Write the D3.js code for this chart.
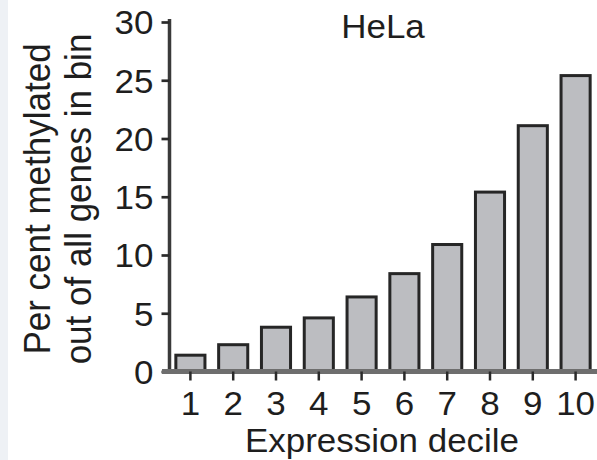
<!DOCTYPE html>
<html>
<head>
<meta charset="utf-8">
<script src="https://cdn.jsdelivr.net/npm/d3@7"></script>
<style>
  html, body { margin: 0; padding: 0; background: #ffffff; }
  svg { display: block; }
  text { font-family: "Liberation Sans", Arial, Helvetica, sans-serif; fill: #1e1e1e; }
</style>
</head>
<body>
<script>
// Percentage of methylated genes per expression decile (HeLa)
const deciles = [1, 2, 3, 4, 5, 6, 7, 8, 9, 10];
const percentMethylated = [1.4, 2.3, 3.8, 4.6, 6.4, 8.4, 10.9, 15.4, 21.1, 25.4];
const yTicks = [0, 5, 10, 15, 20, 25, 30];
const panelTitle = "HeLa";
const xTitle = "Expression decile";
const yTitleLines = ["Per cent methylated", "out of all genes in bin"];

const W = 597, H = 460;
const svg = d3.select("body").append("svg").attr("width", W).attr("height", H);

// light strip along the left edge
svg.append("rect").attr("x", 0).attr("y", 0).attr("width", 8).attr("height", H).attr("fill", "#eef1f5");

const x = d3.scaleBand().domain(deciles).range([169, 597]).paddingInner(0.25).paddingOuter(0.125);
const y = d3.scaleLinear().domain([0, 30]).range([371.5, 22]);

const sx = 1.06; // slightly wide lettering

// bars
svg.append("g").selectAll("rect").data(deciles).join("rect")
  .attr("x", d => x(d) + 1.5)
  .attr("width", x.bandwidth() - 3)
  .attr("y", (d, i) => y(percentMethylated[i]))
  .attr("height", (d, i) => y(0) - y(percentMethylated[i]))
  .attr("fill", "#bcbdc1")
  .attr("stroke", "#262626")
  .attr("stroke-width", 3);

// y axis
const yAxis = svg.append("g").attr("transform", "translate(169.5,0)")
  .call(d3.axisLeft(y).tickValues(yTicks).tickSize(8).tickFormat(() => ""));
yAxis.select(".domain").attr("d", `M0,${y(30) - 3}V${y(0)}`).attr("stroke", "#3a3a3a").attr("stroke-width", 3.5);
yAxis.selectAll(".tick line").attr("stroke", "#2a2a2a").attr("stroke-width", 2.7);
yAxis.selectAll(".tick").each(function (d) {
  d3.select(this).append("text")
    .attr("transform", `translate(-16,0) scale(${sx},1)`)
    .attr("text-anchor", "end")
    .attr("dy", "0.36em")
    .attr("font-size", 33)
    .attr("stroke", "none")
    .text(d);
});

// x axis
const xAxis = svg.append("g").attr("transform", `translate(0,${y(0)})`)
  .call(d3.axisBottom(x).tickSize(9).tickFormat(() => ""));
xAxis.select(".domain").attr("d", `M162,0H${W}`).attr("stroke", "#6e6e6e").attr("stroke-width", 5);
xAxis.selectAll(".tick line").attr("stroke", "#2a2a2a").attr("stroke-width", 2.5);
xAxis.selectAll(".tick").each(function (d) {
  d3.select(this).append("text")
    .attr("transform", `translate(0,43.5) scale(${sx},1)`)
    .attr("text-anchor", "middle")
    .attr("font-size", 33)
    .attr("stroke", "none")
    .text(d);
});

// titles
svg.append("text")
  .attr("transform", `translate(383,38) scale(${sx},1)`)
  .attr("text-anchor", "middle").attr("font-size", 33)
  .text(panelTitle);

svg.append("text")
  .attr("transform", `translate(382,452) scale(${sx},1)`)
  .attr("text-anchor", "middle").attr("font-size", 33)
  .text(xTitle);

const yTitleX = [50, 91];
yTitleLines.forEach((t, i) => {
  svg.append("text")
    .attr("transform", `translate(${yTitleX[i]},199) scale(1.07,1) rotate(-90)`)
    .attr("text-anchor", "middle").attr("font-size", 35)
    .text(t);
});
</script>
</body>
</html>
